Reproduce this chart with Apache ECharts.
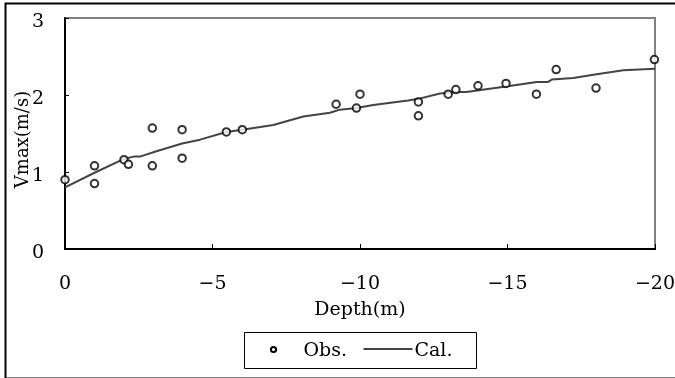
<!DOCTYPE html>
<html>
<head>
<meta charset="utf-8">
<script src="https://cdn.jsdelivr.net/npm/echarts@6/dist/echarts.min.js"></script>
<style>html,body{margin:0;padding:0;background:#fff}#c{width:675px;height:378px}</style>
</head>
<body>
<div id="c"></div>
<script>
// Observed points: depth (m) and Vmax (m/s)
var obsDepth = [0, -1, -1, -2, -2.15, -2.96, -2.96, -3.97, -3.97, -5.47, -6.01, -9.19, -9.88, -10.0, -11.98, -11.98, -12.99, -13.25, -14.0, -14.95, -15.98, -16.65, -18.0, -19.98];
var obsV     = [0.90, 1.08, 0.85, 1.16, 1.10, 1.57, 1.08, 1.55, 1.18, 1.52, 1.55, 1.88, 1.83, 2.01, 1.91, 1.73, 2.01, 2.07, 2.12, 2.15, 2.01, 2.33, 2.09, 2.46];
// Calculated curve
var calDepth = [0, -1, -2, -2.32, -2.54, -3.1, -3.97, -4.58, -5.47, -6.01, -7.06, -8.08, -8.98, -9.32, -9.88, -10.45, -11.63, -11.98, -12.71, -13.25, -13.6, -14.95, -15.99, -16.38, -16.5, -17.23, -18.02, -18.93, -20];
var calV     = [0.80, 0.99, 1.17, 1.20, 1.20, 1.27, 1.37, 1.42, 1.52, 1.55, 1.61, 1.72, 1.77, 1.81, 1.83, 1.87, 1.93, 1.95, 2.02, 2.04, 2.04, 2.11, 2.17, 2.17, 2.20, 2.22, 2.27, 2.32, 2.34];
var xName = 'Depth(m)';
var yName = 'Vmax(m/s)';
var seriesNames = ['Obs.', 'Cal.'];

var FONT = 'DejaVu Serif';
var LINE_COLOR = '#444';

// legend drawn as a small group (box, symbol, line sample, texts)
var legendGroup = {
  type: 'group', left: 244, top: 332, z: 50, silent: true,
  children: [
    {type: 'rect', shape: {x: 0, y: 0, width: 232, height: 36}, style: {fill: '#fff', stroke: '#000', lineWidth: 1}},
    {type: 'circle', shape: {cx: 29, cy: 17, r: 2.6}, style: {fill: '#fff', stroke: '#000', lineWidth: 2}},
    {type: 'text', x: 59, y: 18.5, style: {text: seriesNames[0], fontFamily: FONT, fontSize: 19, fill: '#000', verticalAlign: 'middle', align: 'left'}},
    {type: 'line', shape: {x1: 119, y1: 16.5, x2: 168, y2: 16.5}, style: {stroke: LINE_COLOR, lineWidth: 2}},
    {type: 'text', x: 170, y: 18.5, style: {text: seriesNames[1], fontFamily: FONT, fontSize: 19, fill: '#000', verticalAlign: 'middle', align: 'left'}}
  ]
};

var chart = echarts.init(document.getElementById('c'), null, {renderer: 'canvas'});
chart.setOption({
  animation: false,
  backgroundColor: '#fff',
  graphic: [{
    type: 'rect', left: 3, top: 1, shape: {width: 690, height: 375},
    style: {fill: 'none', stroke: '#000', lineWidth: 2}, silent: true, z: 100
  }, legendGroup],
  grid: {left: 65, right: 20, top: 18, bottom: 129, containLabel: false, outerBoundsMode: 'none',
    show: true, borderColor: '#808080', borderWidth: 2, backgroundColor: 'transparent'},
  xAxis: {
    type: 'value', min: -20, max: 0, interval: 5, inverse: true,
    name: xName, nameLocation: 'middle', nameGap: 52, nameMoveOverlap: false,
    nameTextStyle: {fontFamily: FONT, fontSize: 19, color: '#000'},
    axisLine: {lineStyle: {color: '#000', width: 2}},
    axisTick: {inside: true, length: 5, lineStyle: {color: '#000', width: 1}},
    axisLabel: {margin: 26, fontFamily: FONT, fontSize: 19, color: '#000',
      formatter: function (v) { return String(v).replace('-', '\u2212'); }},
    splitLine: {show: false}
  },
  yAxis: {
    type: 'value', min: 0, max: 3, interval: 1,
    name: yName, nameLocation: 'middle', nameGap: 33, nameRotate: 90, nameMoveOverlap: false,
    nameTextStyle: {fontFamily: FONT, fontSize: 18, color: '#000', padding: [0, 12, 0, 0]},
    axisLine: {show: true, lineStyle: {color: '#000', width: 2}},
    axisTick: {show: true, inside: true, length: 4, lineStyle: {color: '#000', width: 1}},
    axisLabel: {margin: 21, verticalAlign: 'top', lineHeight: 8, fontFamily: FONT, fontSize: 19, color: '#000'},
    splitLine: {show: false}
  },
  series: [{
    name: seriesNames[0], type: 'scatter',
    data: obsDepth.map(function (d, i) { return [d, obsV[i]]; }),
    symbol: 'emptyCircle', symbolSize: 7.5,
    itemStyle: {color: '#000', borderColor: '#000', borderWidth: 2},
    z: 3
  }, {
    name: seriesNames[1], type: 'line',
    data: calDepth.map(function (d, i) { return [d, calV[i]]; }),
    symbol: 'none', showSymbol: false,
    lineStyle: {color: LINE_COLOR, width: 2},
    itemStyle: {color: LINE_COLOR},
    z: 2
  }]
});
</script>
</body>
</html>
